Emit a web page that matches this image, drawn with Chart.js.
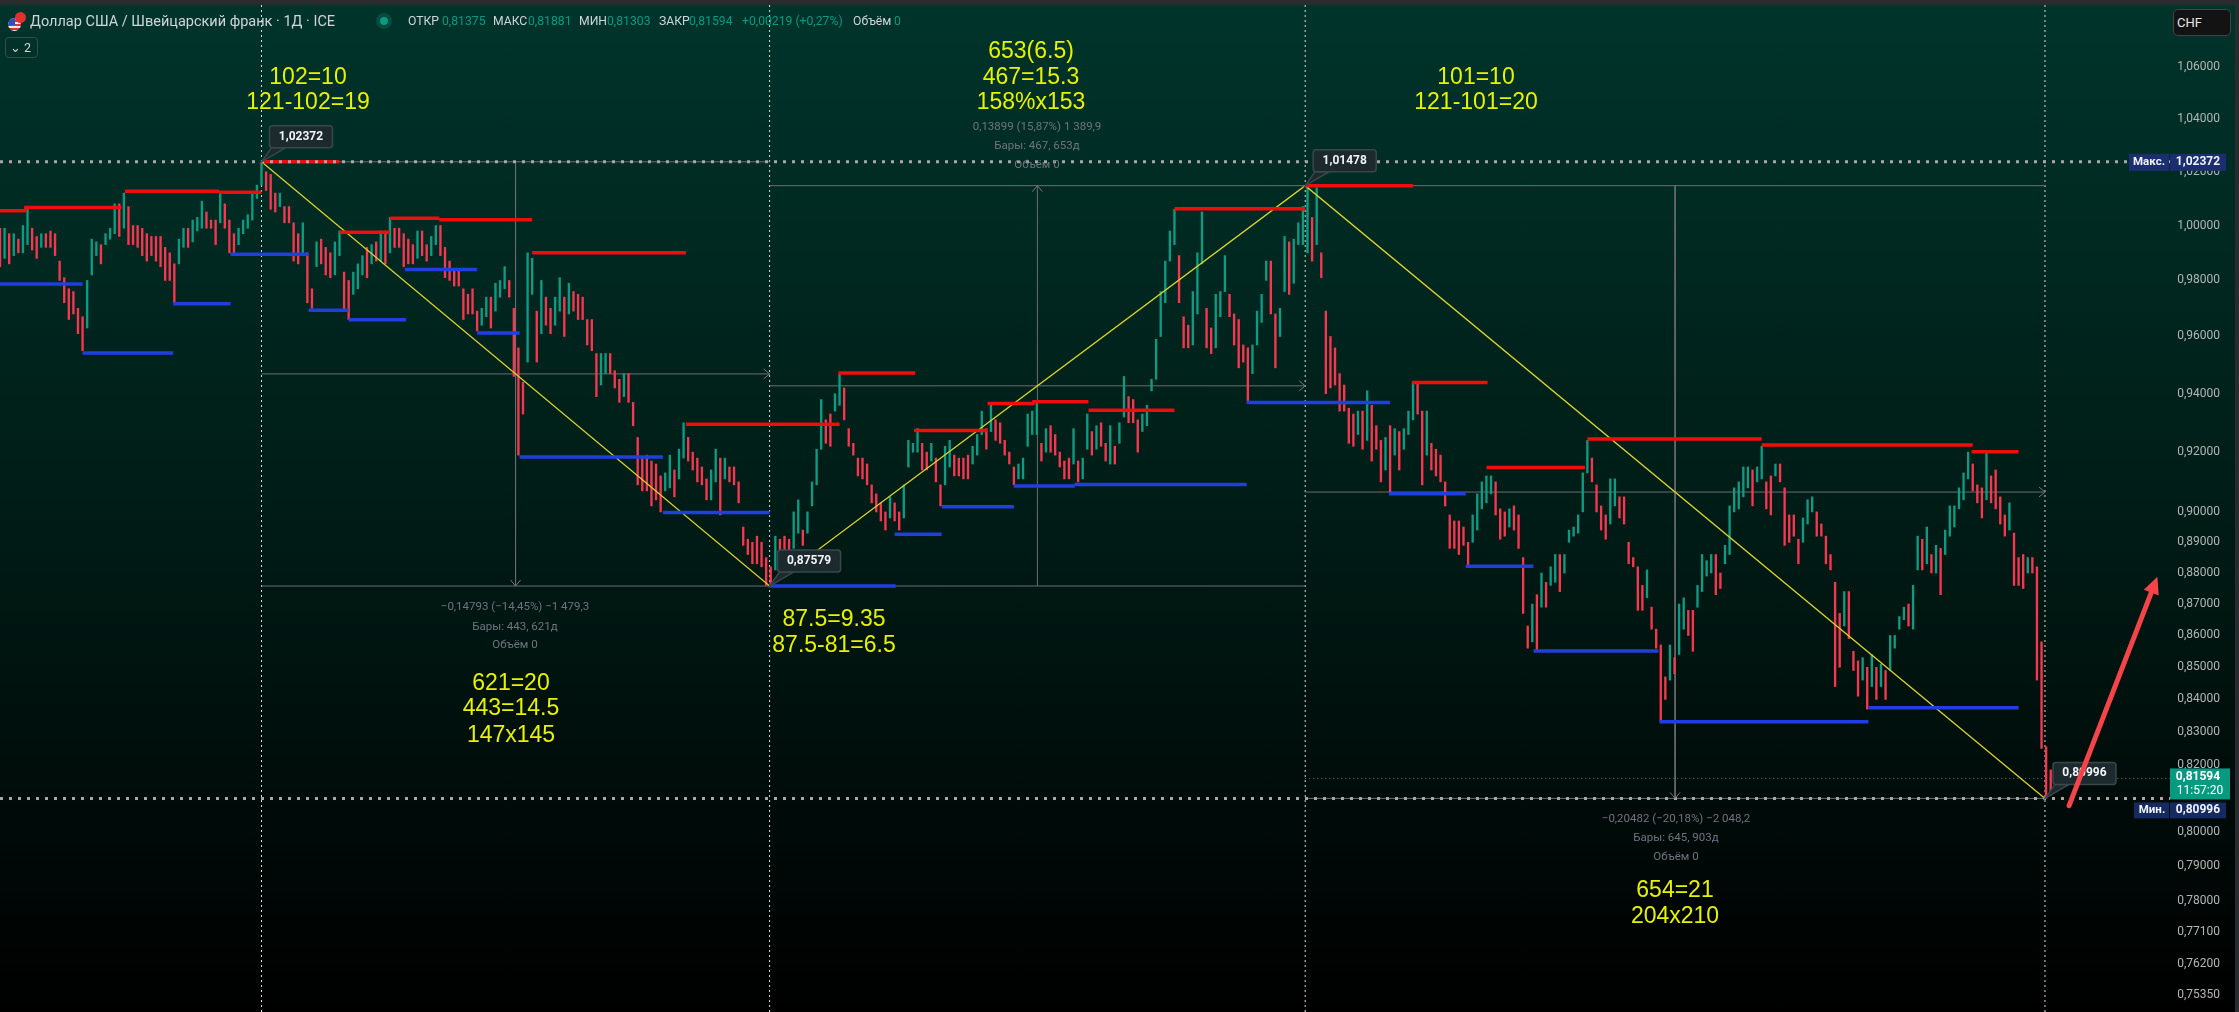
<!DOCTYPE html>
<html>
<head>
<meta charset="utf-8">
<script src="https://cdn.jsdelivr.net/npm/chart.js@4"></script>
<style>
  html, body { margin: 0; padding: 0; width: 2239px; height: 1012px; overflow: hidden; background: #000; }
  #pane { position: absolute; left: 0; top: 5px; width: 2235px; height: 1007px; background: linear-gradient(#00342b, #001c16 50%, #000); }
  #topbar { position: absolute; left: 0; top: 0; width: 2239px; height: 5px; background: #2a2b2e; }
  #rightbar { position: absolute; left: 2235px; top: 0; width: 4px; height: 1012px; background: #2a2b2e; }
  canvas { position: absolute; left: 0; top: 0; }
  .head { position: absolute; top: 13px; font: 12.2px Roboto, sans-serif; color: #d1d4dc; white-space: nowrap; line-height: 17px; }
  .head.val { color: #089981; }
  #title { left: 30px; font-size: 14.5px; }
  #dot { position: absolute; left: 380px; top: 17px; width: 8px; height: 8px; border-radius: 50%; background: #0a9a80; box-shadow: 0 0 0 4px rgba(8,153,129,.25); }
  #flag1 { position: absolute; left: 8px; top: 18px; width: 13px; height: 13px; border-radius: 50%; background: repeating-linear-gradient(#e8e8f0 0 2px, #d33 2px 4px); }
  #flag1 i { position: absolute; left: 0; top: 0; width: 7px; height: 7px; background: #2a50c0; border-top-left-radius: 7px; }
  #flag2 { position: absolute; left: 15px; top: 12px; width: 11px; height: 11px; border-radius: 50%; background: #e03030; }
  #fold { position: absolute; left: 5px; top: 37px; width: 31px; height: 19px; border: 1px solid #3c4a4a; border-radius: 4px; color: #d1d4dc; font: 12.5px Roboto, sans-serif; line-height: 19px; text-align: right; }
  #fold span { margin-right: 6px; }
  #chf { position: absolute; left: 2173px; top: 9px; width: 53px; height: 25px; background: #131313; border: 1px solid #444; border-radius: 5px; color: #e8e8e8; font: 13px Roboto, sans-serif; line-height: 25px; padding-left: 3px; }
</style>
</head>
<body>
<div id="pane"></div>
<div id="topbar"></div>
<div id="rightbar"></div>
<canvas id="chart" width="2239" height="1012" style="width:2239px;height:1012px"></canvas>
<div id="flag1"><i></i></div><div id="flag2"></div>
<div class="head" id="title">Доллар США / Швейцарский франк · 1Д · ICE</div>
<div id="dot"></div>
<div class="head" style="left:408px">ОТКР</div><div class="head val" style="left:442px">0,81375</div>
<div class="head" style="left:493px">МАКС</div><div class="head val" style="left:528px">0,81881</div>
<div class="head" style="left:579px">МИН</div><div class="head val" style="left:607px">0,81303</div>
<div class="head" style="left:659px">ЗАКР</div><div class="head val" style="left:689px">0,81594</div>
<div class="head val" style="left:742px">+0,00219 (+0,27%)</div>
<div class="head" style="left:853px">Объём</div><div class="head val" style="left:894px">0</div>
<div id="fold">⌄ <span>2</span></div>
<div id="chf">CHF</div>
<script>
// price scale
const tickValues = [1.06, 1.04, 1.02, 1.00, 0.98, 0.96, 0.94, 0.92, 0.90, 0.89, 0.88, 0.87, 0.86, 0.85, 0.84, 0.83, 0.82, 0.80, 0.79, 0.78, 0.771, 0.762, 0.7535];
const priceMax = 1.08452;
const priceMin = 0.74875;
const lastBar = 1892;
const barStep = 4; // one wick is kept for every 4 daily bars

const highs = [
  .999,.999,.997,.997,.995,1.000,1.006,.999,.996,.997,.997,.998,.997,.987,.981,.977,.976,.970,.967,.980,.995,.994,.993,.997,.999,1.008,1.008,1.012,1.007,1.000,1.000,.999,.997,.996,.996,.996,.992,.990,.986,.995,.999,.999,1.002,1.003,1.009,1.005,1.002,1.002,1.012,1.008,1.002,.997,.999,1.002,1.004,1.012,1.015,
  1.024,1.020,1.019,1.012,1.012,1.007,1.007,1.001,.997,1.001,.990,.977,.994,.995,.992,.990,.994,.998,.983,.980,.983,.986,.989,.992,.993,.994,.998,.998,1.003,.999,.999,.997,.995,.993,.998,.998,.993,.996,1.000,1.000,.992,.987,.984,.984,.977,.975,.977,.969,.970,.974,.974,.979,.980,.985,.980,.970,.956,.944,.990,.988,.969,.980,.974,.970,.974,.981,.974,.979,.976,.975,.974,.966,.966,.954,.954,.954,.954,.948,.945,.947,.947,.937,.925,.918,.919,.917,.916,.912,.913,.919,.914,.921,.930,.925,.920,.918,.915,.911,.914,.921,.918,.918,.915,.915,.910,.895,.891,.890,.892,.890,.885,
  .882,.892,.891,.892,.891,.900,.904,.894,.900,.910,.921,.938,.931,.933,.940,.947,.942,.928,.923,.918,.918,.916,.909,.906,.903,.900,.905,.903,.900,.909,.924,.923,.928,.923,.920,.923,.918,.909,.922,.924,.919,.918,.918,.919,.922,.926,.934,.928,.936,.931,.930,.924,.920,.915,.916,.918,.933,.934,.937,.923,.928,.929,.926,.920,.917,.918,.928,.917,.918,.933,.927,.929,.930,.923,.929,.922,.930,.946,.939,.938,.931,.933,.936,.945,.959,.976,.987,.998,1.006,.989,.967,.964,.976,.990,1.005,.970,.963,.975,.976,.989,.975,.968,.966,.957,.956,.957,.969,.975,.987,.987,.968,.970,.996,.994,.995,1.001,1.007,1.0148,
  1.003,1.014,.990,.969,.960,.956,.947,.943,.935,.933,.934,.934,.941,.936,.929,.924,.925,.929,.928,.927,.928,.934,.944,.944,.934,.934,.923,.921,.919,.910,.899,.897,.897,.895,.890,.899,.906,.910,.912,.912,.910,.901,.900,.901,.902,.899,
  .885,.863,.870,.873,.880,.877,.882,.886,.886,.886,.894,.895,.899,.913,.924,.918,.909,.902,.899,.911,.911,.905,.905,.890,.885,.882,.876,.881,.869,.862,.857,.847,.857,.853,.870,.872,.868,.868,.876,.886,.884,.886,.886,.880,.889,.902,.908,.910,.915,.915,.914,.915,.922,.910,.912,.916,.916,.908,.899,.899,.891,.898,.904,.905,.900,.896,.892,.886,.877,.867,.874,.874,.855,.852,.853,.850,.854,.850,.851,.849,.860,.860,.866,.869,.870,.876,.892,.891,.895,.886,.889,.888,.894,.902,.902,.908,.913,.920,.916,.909,.908,.920,.912,.914,.905,.899,.903,.893,.885,.886,.885,.885,.882,
  .858,.8255,.8185
];
const lows = [
  .985,.988,.986,.989,.990,.990,.993,.991,.988,.992,.992,.992,.989,.980,.972,.966,.968,.961,.955,.963,.982,.989,.986,.993,.995,.997,.996,.999,.993,.993,.992,.989,.987,.989,.987,.985,.980,.980,.972,.986,.992,.992,.994,.998,.999,.999,.999,.993,1.001,.999,.990,.990,.993,.997,.999,1.002,1.010,
  1.015,1.013,1.006,1.005,1.007,1.001,1.001,.987,.986,.990,.972,.970,.985,.986,.982,.981,.982,.989,.969,.966,.975,.977,.982,.981,.986,.987,.987,.986,.990,.992,.992,.985,.986,.986,.988,.989,.987,.989,.993,.989,.981,.980,.978,.978,.966,.968,.968,.962,.964,.967,.963,.969,.974,.977,.974,.946,.919,.933,.951,.975,.951,.961,.964,.961,.964,.969,.960,.968,.969,.966,.966,.957,.955,.939,.943,.947,.947,.942,.937,.939,.937,.929,.909,.907,.907,.902,.904,.900,.907,.908,.905,.911,.918,.917,.914,.910,.909,.904,.904,.910,.899,.911,.910,.909,.903,.889,.886,.883,.883,.882,.876,
  .876,.881,.884,.884,.885,.888,.893,.889,.893,.902,.909,.921,.923,.922,.934,.936,.931,.922,.919,.912,.911,.909,.903,.900,.897,.894,.898,.897,.894,.898,.915,.920,.920,.914,.914,.917,.910,.902,.909,.915,.912,.912,.911,.911,.916,.919,.926,.921,.927,.924,.923,.919,.916,.909,.911,.911,.922,.926,.926,.917,.920,.920,.919,.915,.911,.911,.916,.910,.911,.921,.919,.921,.922,.917,.916,.916,.923,.932,.930,.930,.920,.927,.929,.941,.945,.960,.972,.987,.993,.972,.956,.956,.957,.968,.986,.956,.954,.956,.967,.976,.967,.957,.949,.951,.937,.947,.957,.965,.980,.968,.949,.960,.976,.975,.979,.993,.993,.990,
  .987,.993,.981,.940,.942,.943,.934,.934,.923,.922,.926,.921,.924,.917,.921,.910,.914,.906,.919,.914,.921,.926,.931,.933,.909,.919,.914,.912,.910,.902,.888,.888,.886,.889,.882,.890,.894,.901,.903,.906,.899,.891,.892,.895,.894,.888,
  .867,.856,.858,.855,.869,.869,.876,.877,.874,.880,.890,.892,.893,.900,.913,.910,.900,.894,.891,.896,.902,.898,.896,.883,.882,.868,.868,.872,.862,.856,.833,.840,.846,.848,.854,.862,.860,.855,.869,.874,.879,.880,.873,.875,.883,.886,.900,.901,.905,.908,.902,.910,.911,.901,.899,.912,.910,.889,.890,.892,.883,.890,.896,.900,.892,.892,.883,.881,.844,.850,.863,.859,.849,.841,.846,.837,.844,.840,.844,.840,.849,.856,.862,.865,.863,.862,.881,.881,.883,.880,.880,.873,.886,.892,.895,.901,.904,.911,.907,.903,.898,.904,.903,.901,.896,.892,.894,.876,.876,.875,.880,.880,.846,
  .825,.810,.811
];

// swing highs (red) and swing lows (blue): bar where they start, bar where they stop, price
const redStart = [0, 21, 109, 191, 228, 296, 340, 383, 464, 598, 731, 797, 861, 900, 949, 1024, 1138, 1231, 1296, 1384, 1536, 1719];
const redEnd = [23, 106, 191, 228, 296, 340, 383, 464, 598, 732, 798, 861, 902, 949, 1024, 1138, 1232, 1297, 1382, 1536, 1720, 1760];
const redPrice = [1.0055, 1.0067, 1.0127, 1.0123, 1.02372, .9975, 1.0027, 1.0021, .9900, .9295, .9472, .9274, .9366, .9372, .9343, 1.0062, 1.01478, .9439, .9148, .9245, .9224, .9201];
const blueStart = [0, 72, 151, 201, 269, 304, 353, 416, 453, 578, 671, 780, 821, 884, 937, 1087, 1211, 1278, 1337, 1447, 1629];
const blueEnd = [72, 151, 201, 269, 304, 354, 416, 453, 578, 671, 781, 821, 884, 937, 1087, 1212, 1278, 1337, 1446, 1629, 1760];
const bluePrice = [.9787, .9542, .9716, .9895, .9693, .9659, .9840, .9612, .9184, .8998, .87579, .8926, .9017, .9086, .9091, .9370, .9060, .8822, .8551, .8331, .8374];

// the yellow zigzag and the measuring boxes hang on these pivots
const pivotBars = [228, 671, 1138, 1783];
const pivotPrices = [1.02372, .87579, 1.01478, .80996];
const extremePrices = [1.02372, .80996];
const lastPrice = .81594;
const arrowBars = [1804, 1881];
const arrowPrices = [.8078, .8788];

const fmt = v => v.toFixed(5).replace('.', ',');

const candles = highs.map((h, i) => ({ x: i * barStep, y: [lows[i], h] }));
const candleColors = highs.map((h, i) => {
  const prev = i ? highs[i - 1] + lows[i - 1] : h + lows[i];
  return h + lows[i] > prev + .002 ? '#0f9a82' : '#f7374f';
});

const segments = (starts, ends, prices) => {
  const out = [];
  starts.forEach((s, i) => out.push({ x: s, y: prices[i] }, { x: ends[i], y: prices[i] }, { x: ends[i], y: null }));
  return out;
};

// box outlines, middle lines and the long vertical of each measure
const measureLines = [];
for (let i = 0; i < 3; i++) {
  const a = pivotBars[i], b = pivotBars[i + 1];
  const p = pivotPrices[i], q = pivotPrices[i + 1];
  const midPrice = Math.sqrt(p * q);
  measureLines.push(
    { x: a, y: p }, { x: b, y: p }, { x: b, y: null },
    { x: a, y: q }, { x: b, y: q }, { x: b, y: null },
    { x: a, y: midPrice }, { x: b, y: midPrice }, { x: b, y: null },
    { x: (a + b) / 2, y: p }, { x: (a + b) / 2, y: q }, { x: b, y: null }
  );
}

const pivotVerticals = [];
pivotBars.forEach(b => pivotVerticals.push({ x: b, y: priceMax }, { x: b, y: priceMin }, { x: b, y: null }));

const extremeLines = [];
extremePrices.forEach(p => extremeLines.push({ x: 0, y: p }, { x: lastBar, y: p }, { x: lastBar, y: null }));

const notes = [
  { x: 308, y: [78, 103], lines: ['102=10', '121-102=19'] },
  { x: 1031, y: [52, 78, 103], lines: ['653(6.5)', '467=15.3', '158%x153'] },
  { x: 1476, y: [78, 103], lines: ['101=10', '121-101=20'] },
  { x: 834, y: [620, 646], lines: ['87.5=9.35', '87.5-81=6.5'] },
  { x: 511, y: [684, 709, 736], lines: ['621=20', '443=14.5', '147x145'] },
  { x: 1675, y: [891, 917], lines: ['654=21', '204x210'] }
];
const stats = [
  { x: 515, y: [607, 627, 645], lines: ['−0,14793 (−14,45%) −1 479,3', 'Бары: 443, 621д', 'Объём 0'] },
  { x: 1037, y: [127, 146, 165], lines: ['0,13899 (15,87%) 1 389,9', 'Бары: 467, 653д', 'Объём 0'] },
  { x: 1676, y: [819, 838, 857], lines: ['−0,20482 (−20,18%) −2 048,2', 'Бары: 645, 903д', 'Объём 0'] }
];

const annotations = {
  id: 'annotations',
  afterDraw(chart) {
    const { ctx, scales: { x, y }, chartArea } = chart;
    ctx.save();
    ctx.textAlign = 'center';
    ctx.textBaseline = 'middle';

    // small chevrons on the measure lines
    const chevron = (px, py, dx, dy) => {
      ctx.strokeStyle = '#777';
      ctx.lineWidth = 1;
      ctx.beginPath();
      ctx.moveTo(px - dx * 6 - dy * 5, py - dy * 6 - dx * 5);
      ctx.lineTo(px, py);
      ctx.lineTo(px - dx * 6 + dy * 5, py - dy * 6 + dx * 5);
      ctx.stroke();
    };
    for (let i = 0; i < 3; i++) {
      const a = pivotBars[i], b = pivotBars[i + 1];
      const p = pivotPrices[i], q = pivotPrices[i + 1];
      chevron(x.getPixelForValue(b), y.getPixelForValue(Math.sqrt(p * q)), 1, 0);
      chevron(x.getPixelForValue((a + b) / 2), y.getPixelForValue(q), 0, q > p ? -1 : 1);
    }

    stats.forEach(s => {
      ctx.font = '11.5px Roboto, sans-serif';
      ctx.fillStyle = '#6f7480';
      s.lines.forEach((t, i) => ctx.fillText(t, s.x, s.y[i]));
    });
    notes.forEach(n => {
      ctx.font = '23px "Liberation Sans", Arial, sans-serif';
      ctx.fillStyle = '#e6f200';
      n.lines.forEach((t, i) => ctx.fillText(t, n.x, n.y[i]));
    });

    // price callouts at the pivots
    pivotPrices.forEach((p, i) => {
      const tx = x.getPixelForValue(pivotBars[i]), ty = y.getPixelForValue(p);
      const bx = tx + 8, by = ty - 36;
      ctx.fillStyle = '#1c2a2e';
      ctx.strokeStyle = '#39474c';
      ctx.lineWidth = 1.5;
      ctx.beginPath();
      ctx.moveTo(tx, ty);
      ctx.lineTo(bx + 2, by + 22);
      ctx.lineTo(bx + 16, by + 22);
      ctx.closePath();
      ctx.fill();
      ctx.stroke();
      ctx.beginPath();
      ctx.roundRect(bx, by, 63, 22, 3);
      ctx.fill();
      ctx.stroke();
      ctx.fillStyle = '#f0f3fa';
      ctx.font = 'bold 12px Roboto, sans-serif';
      ctx.fillText(fmt(p), bx + 31.5, by + 11);
    });

    // the hand drawn red arrow
    const ax = x.getPixelForValue(arrowBars[0]), ay = y.getPixelForValue(arrowPrices[0]);
    const bx = x.getPixelForValue(arrowBars[1]), by = y.getPixelForValue(arrowPrices[1]);
    const ang = Math.atan2(by - ay, bx - ax);
    ctx.strokeStyle = '#f4444a';
    ctx.lineWidth = 5;
    ctx.lineCap = 'round';
    ctx.beginPath();
    ctx.moveTo(ax, ay);
    ctx.lineTo(bx - 10 * Math.cos(ang), by - 10 * Math.sin(ang));
    ctx.stroke();
    ctx.fillStyle = '#f4444a';
    ctx.beginPath();
    ctx.moveTo(bx, by);
    ctx.lineTo(bx - 17 * Math.cos(ang) + 8 * Math.sin(ang), by - 17 * Math.sin(ang) - 8 * Math.cos(ang));
    ctx.lineTo(bx - 17 * Math.cos(ang) - 8 * Math.sin(ang), by - 17 * Math.sin(ang) + 8 * Math.cos(ang));
    ctx.closePath();
    ctx.fill();

    // labels on the price axis
    const right = chartArea.right;
    const maxY = y.getPixelForValue(extremePrices[0]);
    ctx.fillStyle = '#1b2f70';
    ctx.fillRect(right - 41, maxY - 8, 40, 17);
    ctx.fillRect(right, maxY - 8, 56, 17);
    ctx.fillStyle = '#f0f3fa';
    ctx.font = 'bold 11.5px Roboto, sans-serif';
    ctx.fillText('Макс.', right - 21, maxY + .5);
    ctx.font = 'bold 12px Roboto, sans-serif';
    ctx.fillText(fmt(extremePrices[0]), right + 28, maxY + .5);

    const minY = y.getPixelForValue(extremePrices[1]);
    ctx.fillStyle = '#142a60';
    ctx.fillRect(right - 36, minY + 4, 35, 16);
    ctx.fillRect(right, minY + 4, 56, 16);
    ctx.fillStyle = '#f0f3fa';
    ctx.font = 'bold 11.5px Roboto, sans-serif';
    ctx.fillText('Мин.', right - 18, minY + 12);
    ctx.font = 'bold 12px Roboto, sans-serif';
    ctx.fillText(fmt(extremePrices[1]), right + 28, minY + 12);

    const lastY = y.getPixelForValue(lastPrice);
    ctx.fillStyle = '#089981';
    ctx.fillRect(right, lastY - 10, 60, 31);
    ctx.fillStyle = '#ffffff';
    ctx.fillText(fmt(lastPrice), right + 28, lastY - 1);
    ctx.font = '12px Roboto, sans-serif';
    ctx.fillText('11:57:20', right + 30, lastY + 13);
    ctx.restore();
  }
};

new Chart(document.getElementById('chart'), {
  type: 'bar',
  data: {
    datasets: [
      { type: 'line', data: extremeLines, borderColor: '#a8a8a8', borderWidth: 3, borderDash: [3, 6], pointRadius: 0, order: 0 },
      { type: 'line', data: segments(redStart, redEnd, redPrice), borderColor: '#f20d0d', borderWidth: 3.5, pointRadius: 0, order: 1 },
      { type: 'line', data: segments(blueStart, blueEnd, bluePrice), borderColor: '#1f3fe0', borderWidth: 3.5, pointRadius: 0, order: 1 },
      { type: 'line', data: pivotBars.map((b, i) => ({ x: b, y: pivotPrices[i] })), borderColor: '#d9d22e', borderWidth: 1.3, pointRadius: 0, order: 2 },
      { type: 'bar', data: candles, backgroundColor: candleColors, barThickness: 1.7, grouped: false, order: 3 },
      { type: 'line', data: [{ x: pivotBars[2], y: lastPrice }, { x: lastBar, y: lastPrice }], borderColor: '#089981', borderWidth: 1, borderDash: [1, 3], pointRadius: 0, order: 4 },
      { type: 'line', data: measureLines, borderColor: '#6b6e70', borderWidth: 1, pointRadius: 0, order: 5 },
      { type: 'line', data: pivotVerticals, borderColor: '#d8dcdc', borderWidth: 1, borderDash: [2, 3], pointRadius: 0, order: 6 }
    ]
  },
  options: {
    responsive: false,
    animation: false,
    layout: { padding: { top: 5, right: 19, bottom: 0, left: 0 } },
    plugins: { legend: { display: false }, tooltip: { enabled: false } },
    events: [],
    scales: {
      x: { type: 'linear', min: 0, max: lastBar, display: false, offset: false },
      y: {
        type: 'logarithmic',
        position: 'right',
        min: priceMin,
        max: priceMax,
        grid: { display: false, drawTicks: false },
        border: { display: false },
        afterFit: s => { s.width = 50; s.paddingTop = 0; s.paddingBottom = 0; },
        afterBuildTicks: s => { s.ticks = tickValues.map(v => ({ value: v })); },
        ticks: {
          autoSkip: false,
          maxRotation: 0,
          crossAlign: 'far',
          padding: 0,
          color: '#b2b7b6',
          font: { family: 'Roboto, sans-serif', size: 12 },
          callback: v => fmt(v)
        }
      }
    }
  },
  plugins: [annotations]
});
</script>
</body>
</html>
